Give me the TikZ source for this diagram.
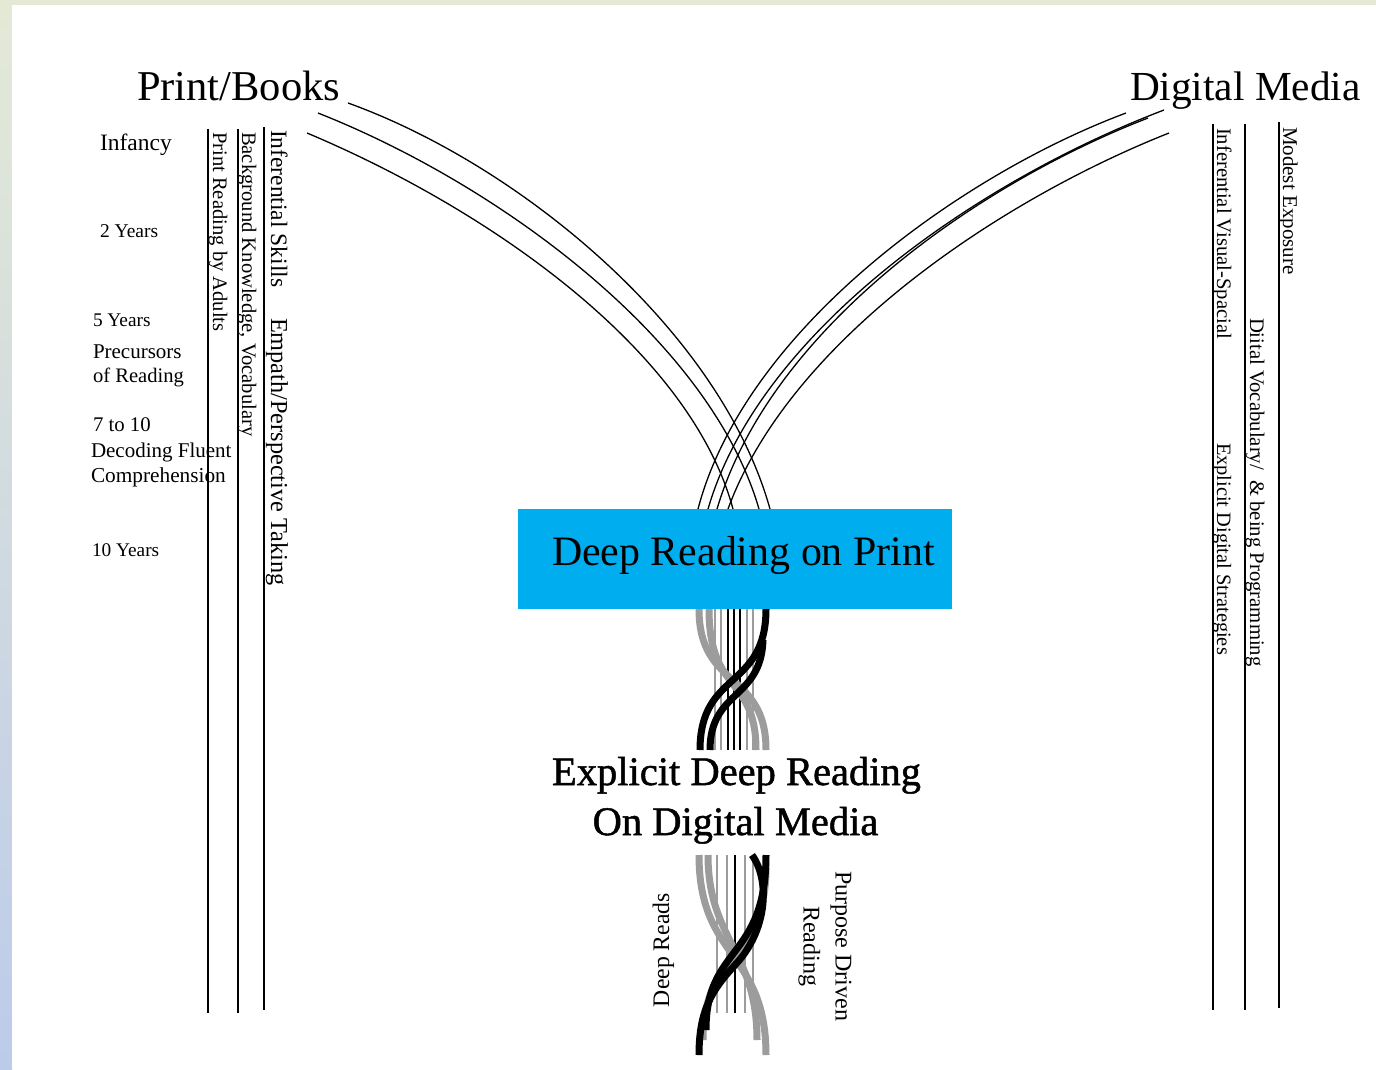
\documentclass[tikz,border=0pt]{standalone}
\usepackage{fontspec}
\setmainfont{Liberation Serif}
\newfontfamily\heavyserif[FakeBold=1.2]{Liberation Serif}
\definecolor{boxblue}{HTML}{00AEEF}
\definecolor{strandgray}{HTML}{9C9C9C}
\definecolor{framegreen}{HTML}{E4E9D6}
\definecolor{frameblue}{HTML}{A9BEE5}
\definecolor{framelow}{HTML}{BCCBEA}
\newcommand\setfs[1]{\fontsize{#1}{#1}\selectfont}
\tikzset{
  lbl/.style={inner sep=0pt, outer sep=0pt},
  vlbl/.style={lbl, rotate=-90, anchor=base west},
  hlbl/.style={lbl, anchor=base west},
  timeline/.style={line width=2.6pt},
  thread/.style={line width=1.3pt},
  strand/.style={line width=7pt},
  fiber/.style={line width=1.1pt},
}
\begin{document}
\begin{tikzpicture}[x=1pt,y=-1pt]
\useasboundingbox (0,0) rectangle (1376,1069);
% frame and white panel
\fill[framegreen] (0,0) rectangle (1376,5);
\shade[top color=framegreen, middle color=frameblue, bottom color=framelow] (0,0) rectangle (12,1069);
\fill[white] (12,5) rectangle (1376,1069);

% headings
\node[hlbl, font=\setfs{42.5}] (print) at (137,100) {Print/Books};
\node[hlbl, font=\setfs{41.3}] (digital) at (1130,100) {Digital Media};

% age labels
\node[hlbl, font=\setfs{23.5}] (infancy) at (100,150) {Infancy};
\node[hlbl, font=\setfs{19.5}] (y2) at (100,237) {2 Years};
\node[hlbl, font=\setfs{19.3}] (y5) at (93,326) {5 Years};
\node[hlbl, font=\setfs{21}] (prec) at (93,358) {Precursors};
\node[hlbl, font=\setfs{20.6}] (ofr) at (93,382) {of Reading};
\node[hlbl, font=\setfs{20.8}] (y7) at (93,431) {7 to 10};
\node[hlbl, font=\setfs{21}] (dec) at (91,457) {Decoding Fluent};
\node[hlbl, font=\setfs{21.3}] (comp) at (91,482) {Comprehension};
\node[hlbl, font=\setfs{19.3}] (y10) at (92,556) {10 Years};

% left time lines
\coordinate (l1t) at (208,129); \coordinate (l1b) at (208,1013);
\coordinate (l2t) at (238,129); \coordinate (l2b) at (238,1013);
\coordinate (l3t) at (264,127); \coordinate (l3b) at (264,1010);
\draw[timeline] (l1t) -- (l1b);
\draw[timeline] (l2t) -- (l2b);
\draw[timeline] (l3t) -- (l3b);
\node[vlbl, font=\setfs{20.6}] (prba) at (213,132) {Print Reading by Adults};
\node[vlbl, font=\setfs{20.6}] (bkv) at (242,132) {Background Knowledge, Vocabulary};
\node[vlbl, font=\setfs{23.5}] (infs) at (271,130) {Inferential Skills};
\node[vlbl, font=\setfs{24.3}] (emp) at (271,318) {Empath/Perspective Taking};

% right time lines
\coordinate (r1t) at (1213,124); \coordinate (r1b) at (1213,1010);
\coordinate (r2t) at (1245,124); \coordinate (r2b) at (1245,1010);
\coordinate (r3t) at (1279,122); \coordinate (r3b) at (1279,1008);
\draw[timeline] (r1t) -- (r1b);
\draw[timeline] (r2t) -- (r2b);
\draw[timeline] (r3t) -- (r3b);
\node[vlbl, font=\setfs{20.6}] (ivs) at (1217,128) {Inferential Visual-Spacial};
\node[vlbl, font=\setfs{20.4}] (eds) at (1217,443) {Explicit Digital Strategies};
\node[vlbl, font=\setfs{20.7}] (dvp) at (1250,318) {Diital Vocabulary/\hspace{0.5em}\& being Programming};
\node[vlbl, font=\setfs{21}] (mod) at (1283,127) {Modest Exposure};

% threads from print
\coordinate (pa) at (348,103); \coordinate (pb) at (318,113); \coordinate (pc) at (307,133);
\coordinate (pa') at (770,509); \coordinate (pb') at (759,509); \coordinate (pc') at (733,509);
\draw[thread] (pa) .. controls (520,165) and (720,330) .. (pa');
\draw[thread] (pb) .. controls (500,185) and (710,340) .. (pb');
\draw[thread] (pc) .. controls (490,210) and (690,350) .. (pc');
% threads from digital media
\coordinate (da) at (1126,113); \coordinate (db) at (1164,110); \coordinate (dc) at (1148,118); \coordinate (dd) at (1169,133);
\coordinate (da') at (698,509); \coordinate (db') at (708,509); \coordinate (dc') at (717,509); \coordinate (dd') at (728,509);
\draw[thread] (da) .. controls (960,175) and (745,330) .. (da');
\draw[thread] (db) .. controls (980,180) and (760,330) .. (db');
\draw[thread] (dc) .. controls (975,185) and (770,330) .. (dc');
\draw[thread] (dd) .. controls (1000,200) and (790,340) .. (dd');

% upper braid
\foreach \x/\c in {715/strandgray,721/strandgray,728/black,734/black,740/black,747/strandgray,753/strandgray}
  \draw[fiber, \c] (\x,609) -- (\x,750);
\draw[strand, strandgray] (699,609) .. controls (699,690) and (766,670) .. (766,750);
\draw[strand, strandgray] (709,609) .. controls (709,695) and (756,675) .. (756,750);
\draw[strand, black] (766,609) .. controls (766,690) and (700,670) .. (700,750);
\draw[strand, black] (763,640) .. controls (761,700) and (710,690) .. (710,750);

% lower braid
\foreach \x/\c in {717/strandgray,727/strandgray,735/black,745/strandgray,753/strandgray}
  \draw[fiber, \c] (\x,855) -- (\x,1013);
\draw[strand, strandgray] (766,868) .. controls (766,960) and (703,950) .. (703,1040);
\draw[strand, strandgray] (699,855) .. controls (699,960) and (766,950) .. (766,1055);
\draw[strand, strandgray] (708,855) .. controls (708,940) and (757,950) .. (757,1040);
\draw[strand, black] (752,855) .. controls (770,880) and (768,930) .. (735,965) .. controls (712,990) and (699,1010) .. (699,1055);
\draw[strand, black] (766,855) .. controls (766,960) and (706,945) .. (706,1030);

% central box
\node[lbl, fill=boxblue, minimum width=434pt, minimum height=100pt, anchor=north west] (deepprint) at (518,509) {};
\node[hlbl, font=\setfs{41.9}] (deeptext) at (552,565) {Deep Reading on Print};

% explicit deep reading title
\node[lbl, anchor=base, font=\heavyserif\setfs{40.5}] (expl1) at (736.5,785) {Explicit Deep Reading};
\node[lbl, anchor=base, font=\heavyserif\setfs{40.5}] (expl2) at (735.5,835) {On Digital Media};

% braid labels
\node[lbl, rotate=90, anchor=base west, font=\setfs{23.7}] (deepreads) at (669,1007) {Deep Reads};
\node[lbl, rotate=-90, align=center, font=\fontsize{24}{32}\selectfont] (purpose) at (825,946) {Purpose Driven\\Reading};
\end{tikzpicture}
\end{document}
